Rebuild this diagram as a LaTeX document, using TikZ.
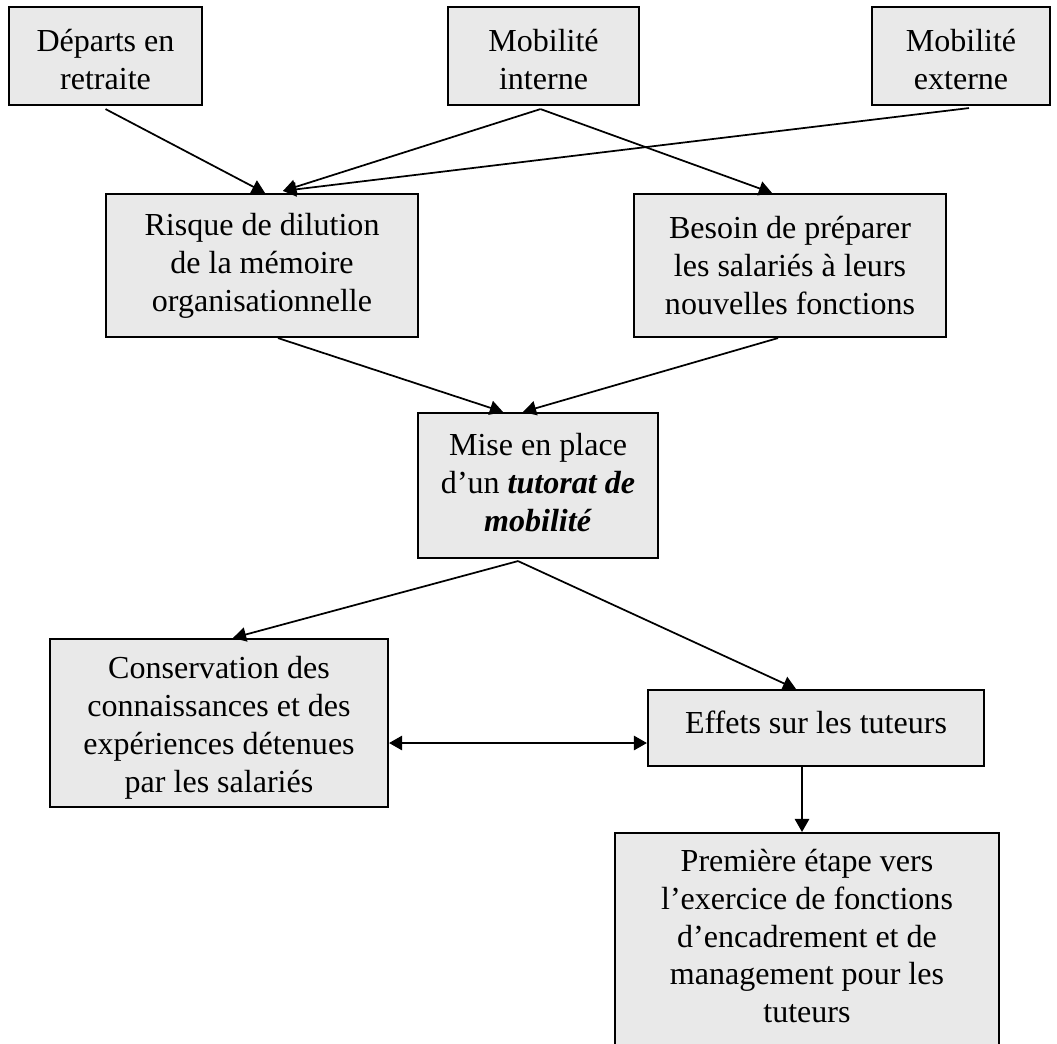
\documentclass[tikz,border=0pt]{standalone}
\usepackage{fontspec}
\setmainfont{Liberation Serif}
\usetikzlibrary{arrows.meta,calc}
\newcommand{\pxl}{0.3745pt}
\newcommand{\tstrut}[1]{\rule{0pt}{#1}}
\newcommand{\dstrut}[1]{\rule[-#1]{0pt}{0pt}}
\definecolor{boxfill}{RGB}{233,233,233}
\tikzset{
  boxnode/.style={draw=black, line width=0.8pt, fill=boxfill, inner sep=0pt,
    align=center, font=\fontsize{12pt}{14.2pt}\selectfont},
  txtnode/.style={inner sep=0pt, align=center, font=\fontsize{12pt}{14.2pt}\selectfont},
  conn/.style={line width=0.65pt, -{Triangle[length=4.9pt,width=5.4pt]}},
  dconn/.style={line width=0.65pt, {Triangle[length=4.9pt,width=5.4pt]}-{Triangle[length=4.9pt,width=5.4pt]}}
}
\begin{document}
\begin{tikzpicture}[x=0.3745pt, y=-0.3745pt]
\useasboundingbox (0,0) rectangle (1057,1043);
\clip (0,0) rectangle (1057,1043);
\fill[white] (0,0) rectangle (1057,1043);

% top row
\node[boxnode, minimum width=193*\pxl, minimum height=98*\pxl] (dep) at (105.5,56) {\tstrut{10.8pt}Départs en\\retraite};
\node[boxnode, minimum width=191*\pxl, minimum height=98*\pxl] (mobint) at (543.5,56) {\tstrut{10.8pt}Mobilité\\interne};
\node[boxnode, minimum width=178*\pxl, minimum height=98*\pxl] (mobext) at (961,56) {\tstrut{10.8pt}Mobilité\\externe};

% second row
\node[boxnode, minimum width=312*\pxl, minimum height=143*\pxl] (risque) at (262,265.5) {Risque de dilution\\de la mémoire\\organisationnelle};
\node[boxnode, minimum width=312*\pxl, minimum height=143*\pxl] (besoin) at (790,265.5) {Besoin de préparer\\les salariés à leurs\\nouvelles fonctions};

% middle
\node[boxnode, minimum width=240*\pxl, minimum height=145*\pxl] (mise) at (538,485.5) {Mise en place\\d’un \textbf{\textit{tutorat de}}\\\textbf{\textit{mobilité}}\dstrut{2.3pt}};

% fourth row
\node[boxnode, minimum width=338*\pxl, minimum height=168*\pxl] (cons) at (219,723) {\tstrut{12pt}Conservation des\\connaissances et des\\expériences détenues\\par les salariés};
\node[boxnode, minimum width=336*\pxl, minimum height=76*\pxl] (effets) at (816,728) {Effets sur les tuteurs\dstrut{4.6pt}};

% bottom (cut off by the page edge)
\node[boxnode, minimum width=384*\pxl, minimum height=240*\pxl, anchor=north] (prem) at (807,832) {};
\node[txtnode] (premtxt) at (807,936) {Première étape vers\\l’exercice de fonctions\\d’encadrement et de\\management pour les\\tuteurs};

% connectors
\draw[conn] ($(dep.south)+(0,3)$) -- ($(risque.north)+(3,0)$);
\draw[conn] ($(mobint.south)+(-3,3)$) -- ($(risque.north)+(21,-2)$);
\draw[conn] ($(mobext.south)+(8,2)$) -- ($(risque.north)+(21,-2)$);
\draw[conn] ($(mobint.south)+(-3,3)$) -- ($(besoin.north)+(-18,0)$);
\draw[conn] ($(risque.south)+(16,0)$) -- ($(mise.north)+(-35,0)$);
\draw[conn] ($(besoin.south)+(-12,0)$) -- ($(mise.north)+(-15,0)$);
\draw[conn] ($(mise.south)+(-20,2)$) -- ($(cons.north)+(14,0)$);
\draw[conn] ($(mise.south)+(-20,2)$) -- ($(effets.north)+(-20,0)$);
\draw[dconn] ($(cons.east)+(0,20)$) -- ($(effets.west)+(0,15)$);
\draw[conn] ($(effets.south)+(-14,0)$) -- ($(prem.north)+(-5,0)$);
\end{tikzpicture}
\end{document}
